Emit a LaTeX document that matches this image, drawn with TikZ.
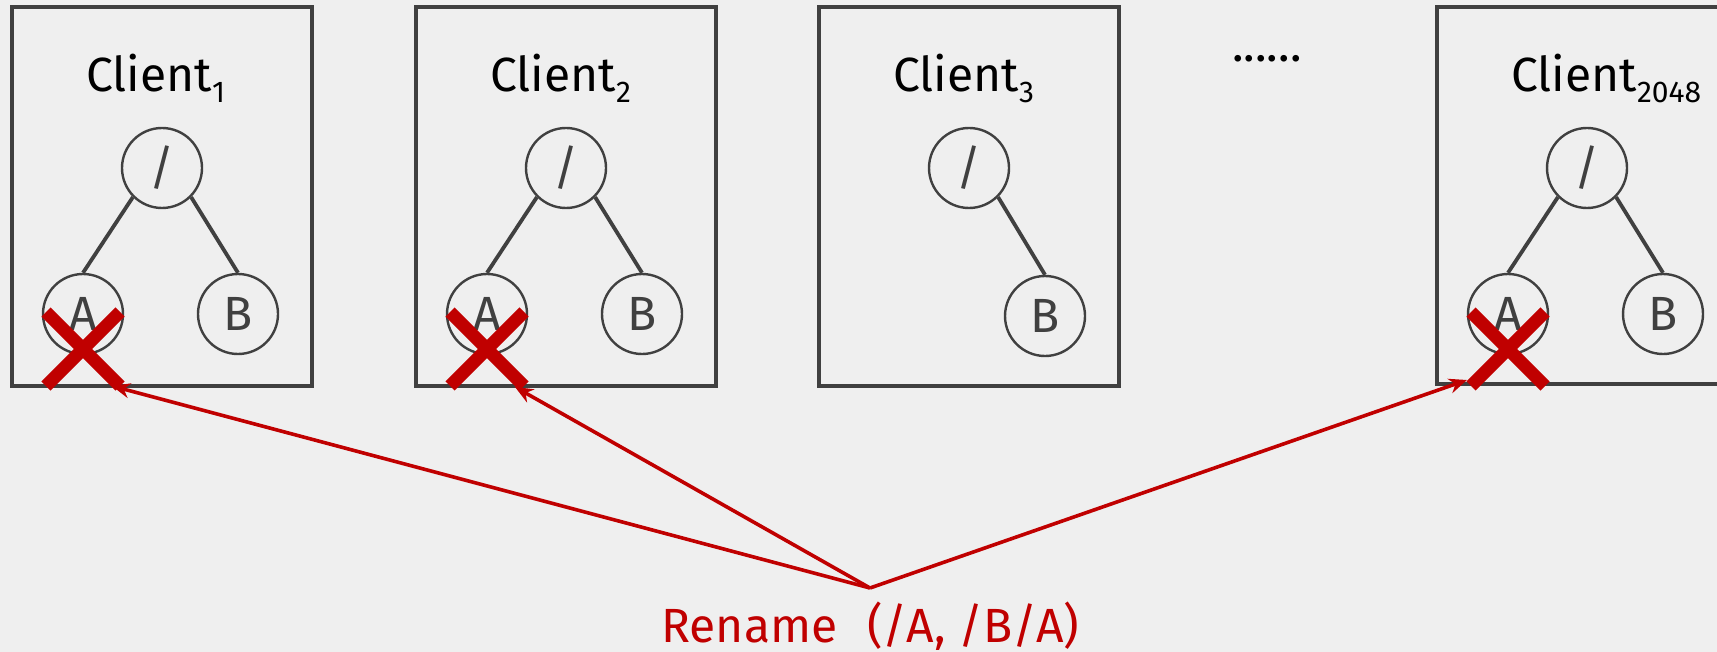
\documentclass[tikz,border=0pt]{standalone}
\usepackage{fontspec}
\setmainfont{Fira Sans}
\usetikzlibrary{arrows.meta}
\definecolor{bg}{HTML}{EFEFEF}
\definecolor{ink}{HTML}{404040}
\definecolor{alert}{HTML}{C00000}
\newcommand{\clientlabel}[1]{Client\raisebox{-5.5pt}{\fontsize{15}{16}\selectfont #1}}
\tikzset{
  panel/.style={draw=ink, line width=1.7pt},
  fsnode/.style={circle, draw=ink, line width=1.2pt, minimum size=40pt, inner sep=0pt,
                 text=ink, font=\fontsize{24}{28}\selectfont},
  edge/.style={draw=ink, line width=1.9pt},
  title/.style={anchor=base west, inner sep=0pt, font=\fontsize{24}{28}\selectfont},
  cross/.style={draw=alert, line width=6.5pt},
  op/.style={draw=alert, line width=1.8pt, -{Stealth[length=9pt,width=7.5pt]}},
}
\begin{document}
\begin{tikzpicture}[x=0.5pt, y=-0.5pt]
  \fill[bg] (0,0) rectangle (1717,652);
  \useasboundingbox (0,0) rectangle (1717,652);
  \clip (0,0) rectangle (1717,652);

  % client panels
  \draw[panel] (12,7) rectangle (312,386);
  \draw[panel] (416,7) rectangle (716,386);
  \draw[panel] (819,7) rectangle (1119,386);
  \draw[panel] (1437,7) rectangle (1737,384);

  \node[title] (c1) at (86,92) {\clientlabel{1}};
  \node[title] (c2) at (490,92) {\clientlabel{2}};
  \node[title] (c3) at (893,92) {\clientlabel{3}};
  \node[title] (c4) at (1511,92) {\clientlabel{2048}};
  \node[title] (dots) at (1232,62) {......};

  % directory trees
  \node[fsnode] (r1) at (162,168) {/};
  \node[fsnode] (a1) at (83,314) {A};
  \node[fsnode] (b1) at (238,314) {B};
  \draw[edge] (r1.south west) -- (a1.north);
  \draw[edge] (r1.south east) -- (b1.north);

  \node[fsnode] (r2) at (566,168) {/};
  \node[fsnode] (a2) at (487,314) {A};
  \node[fsnode] (b2) at (642,314) {B};
  \draw[edge] (r2.south west) -- (a2.north);
  \draw[edge] (r2.south east) -- (b2.north);

  \node[fsnode] (r3) at (969,168) {/};
  \node[fsnode] (b3) at (1045,316) {B};
  \draw[edge] (r3.south east) -- (b3.north);

  \node[fsnode] (r4) at (1587,168) {/};
  \node[fsnode] (a4) at (1508,314) {A};
  \node[fsnode] (b4) at (1663,314) {B};
  \draw[edge] (r4.south west) -- (a4.north);
  \draw[edge] (r4.south east) -- (b4.north);

  % removed entries
  \foreach \n in {a1,a2,a4}{
    \coordinate (x) at ([yshift=-35*0.5pt]\n.center);
    \draw[cross] ([shift={(-37,-37)}]x) -- ([shift={(37,37)}]x);
    \draw[cross] ([shift={(-37,37)}]x) -- ([shift={(37,-37)}]x);
  }

  % rename operation broadcast
  \node[anchor=base west, inner sep=0pt, text=alert, font=\fontsize{24}{28}\selectfont]
    (rename) at (661,642) {Rename\hspace{15pt}(/A, /B/A)};
  \coordinate (src) at (870,588);
  \coordinate (t1) at (112,386);
  \coordinate (t2) at (515,387);
  \coordinate (t4) at (1467,380);
  \draw[op] (src) -- (t1);
  \draw[op] (src) -- (t2);
  \draw[op] (src) -- (t4);
\end{tikzpicture}
\end{document}
